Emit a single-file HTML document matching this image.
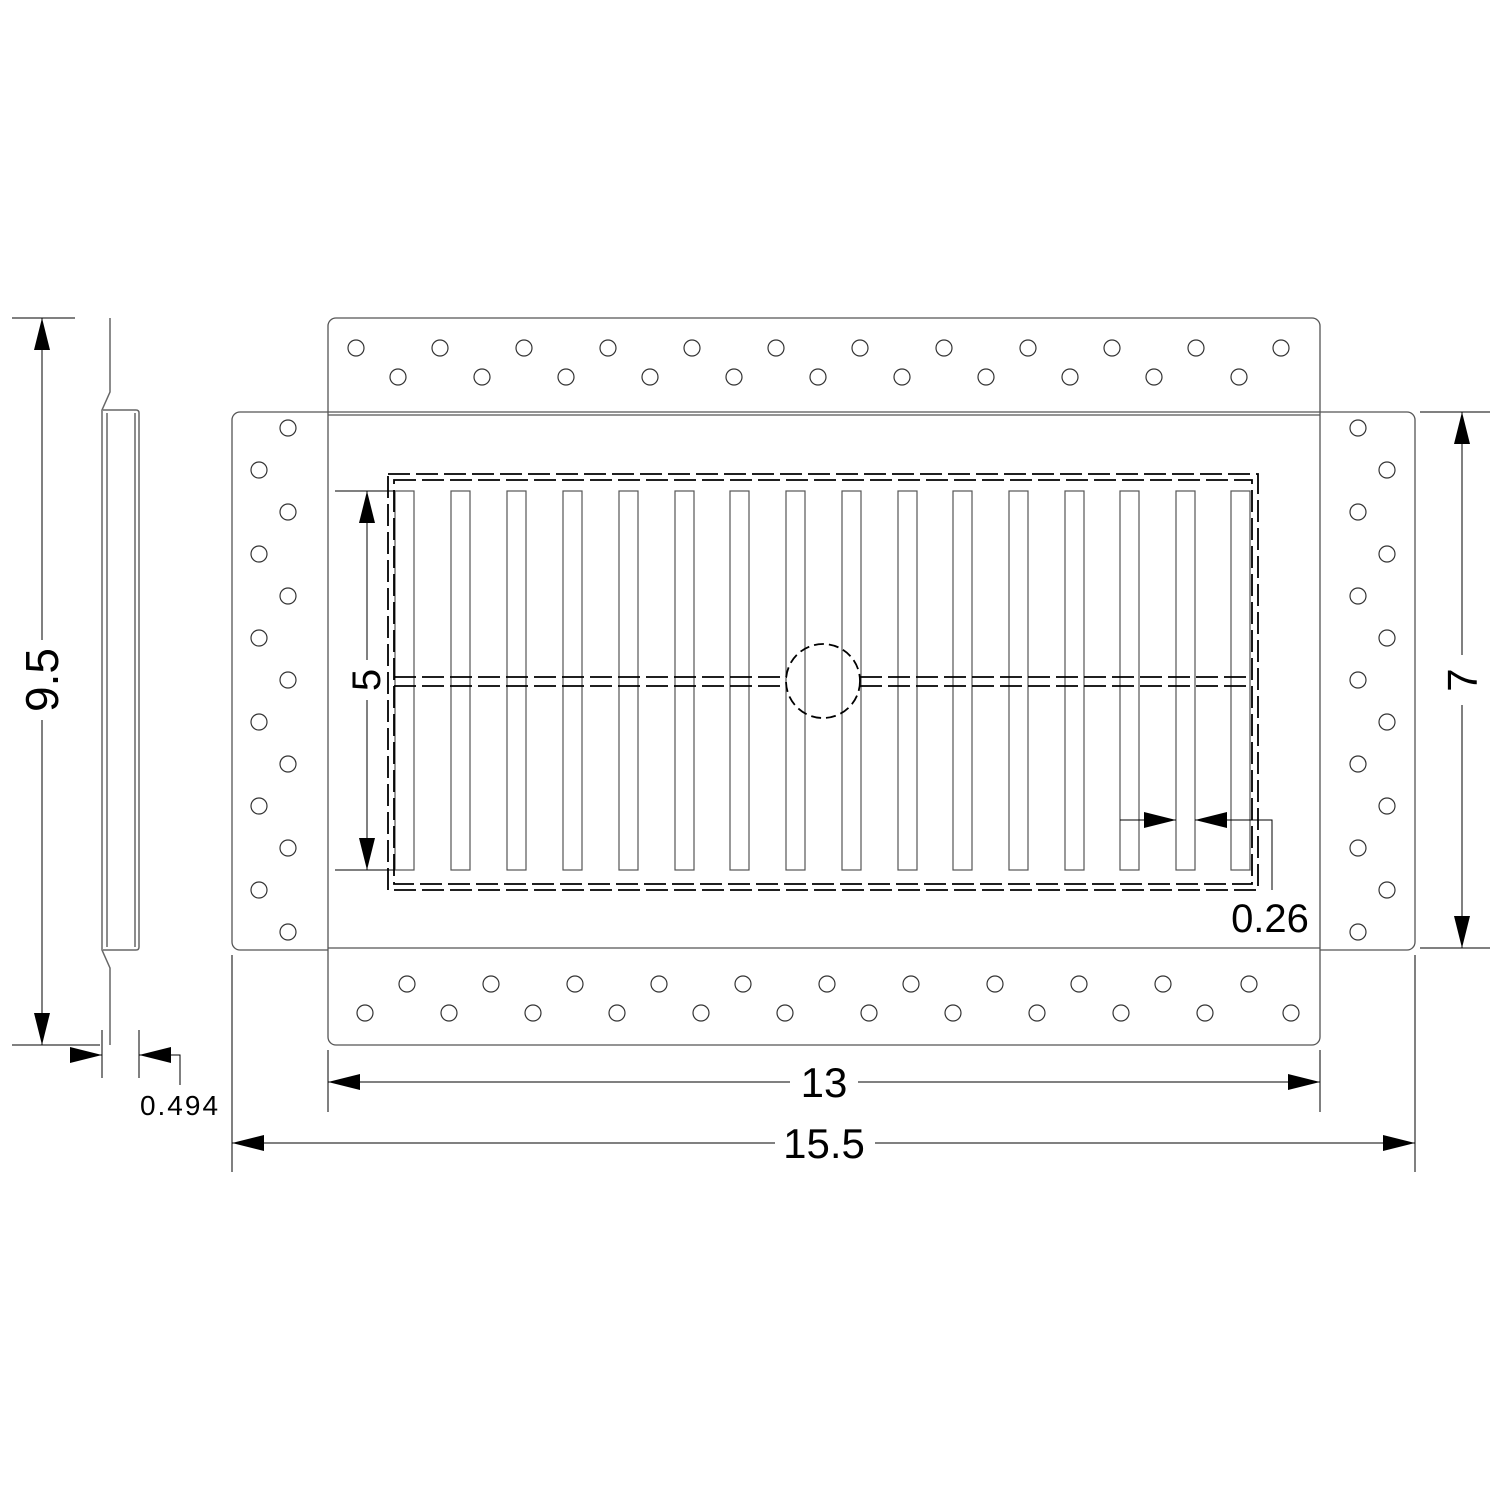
<!DOCTYPE html>
<html><head><meta charset="utf-8"><style>html,body{margin:0;padding:0;background:#fff}</style></head>
<body>
<svg width="1500" height="1500" viewBox="0 0 1500 1500" xmlns="http://www.w3.org/2000/svg">
<defs>
<marker id="a" viewBox="0 0 10 10" refX="10" refY="5" markerWidth="32" markerHeight="16" markerUnits="userSpaceOnUse" orient="auto" preserveAspectRatio="none"><path d="M0,0L10,5L0,10z" fill="#000"/></marker>
</defs>
<g fill="none" stroke="#555" stroke-width="1.3">
<rect x="328" y="318" width="992" height="727" rx="8"/>
<path d="M328,412 H240 a8,8 0 0 0 -8,8 V942 a8,8 0 0 0 8,8 H328"/>
<path d="M1320,412 H1407 a8,8 0 0 1 8,8 V942 a8,8 0 0 1 -8,8 H1320"/>
<line x1="328" y1="412" x2="1320" y2="412"/><line x1="328" y1="415" x2="1320" y2="415"/>
<line x1="328" y1="948" x2="1320" y2="948"/>
</g>
<g fill="none" stroke="#333" stroke-width="1.2">
<circle cx="356" cy="348" r="8"/><circle cx="440" cy="348" r="8"/><circle cx="524" cy="348" r="8"/><circle cx="608" cy="348" r="8"/><circle cx="692" cy="348" r="8"/><circle cx="776" cy="348" r="8"/><circle cx="860" cy="348" r="8"/><circle cx="944" cy="348" r="8"/><circle cx="1028" cy="348" r="8"/><circle cx="1112" cy="348" r="8"/><circle cx="1196" cy="348" r="8"/><circle cx="1281" cy="348" r="8"/>
<circle cx="398" cy="377" r="8"/><circle cx="482" cy="377" r="8"/><circle cx="566" cy="377" r="8"/><circle cx="650" cy="377" r="8"/><circle cx="734" cy="377" r="8"/><circle cx="818" cy="377" r="8"/><circle cx="902" cy="377" r="8"/><circle cx="986" cy="377" r="8"/><circle cx="1070" cy="377" r="8"/><circle cx="1154" cy="377" r="8"/><circle cx="1239" cy="377" r="8"/>
<circle cx="407" cy="984" r="8"/><circle cx="491" cy="984" r="8"/><circle cx="575" cy="984" r="8"/><circle cx="659" cy="984" r="8"/><circle cx="743" cy="984" r="8"/><circle cx="827" cy="984" r="8"/><circle cx="911" cy="984" r="8"/><circle cx="995" cy="984" r="8"/><circle cx="1079" cy="984" r="8"/><circle cx="1163" cy="984" r="8"/><circle cx="1249" cy="984" r="8"/>
<circle cx="365" cy="1013" r="8"/><circle cx="449" cy="1013" r="8"/><circle cx="533" cy="1013" r="8"/><circle cx="617" cy="1013" r="8"/><circle cx="701" cy="1013" r="8"/><circle cx="785" cy="1013" r="8"/><circle cx="869" cy="1013" r="8"/><circle cx="953" cy="1013" r="8"/><circle cx="1037" cy="1013" r="8"/><circle cx="1121" cy="1013" r="8"/><circle cx="1205" cy="1013" r="8"/><circle cx="1291" cy="1013" r="8"/>
<circle cx="288" cy="428" r="8"/><circle cx="288" cy="512" r="8"/><circle cx="288" cy="596" r="8"/><circle cx="288" cy="680" r="8"/><circle cx="288" cy="764" r="8"/><circle cx="288" cy="848" r="8"/><circle cx="288" cy="932" r="8"/>
<circle cx="259" cy="470" r="8"/><circle cx="259" cy="554" r="8"/><circle cx="259" cy="638" r="8"/><circle cx="259" cy="722" r="8"/><circle cx="259" cy="806" r="8"/><circle cx="259" cy="890" r="8"/>
<circle cx="1358" cy="428" r="8"/><circle cx="1358" cy="512" r="8"/><circle cx="1358" cy="596" r="8"/><circle cx="1358" cy="680" r="8"/><circle cx="1358" cy="764" r="8"/><circle cx="1358" cy="848" r="8"/><circle cx="1358" cy="932" r="8"/>
<circle cx="1387" cy="470" r="8"/><circle cx="1387" cy="554" r="8"/><circle cx="1387" cy="638" r="8"/><circle cx="1387" cy="722" r="8"/><circle cx="1387" cy="806" r="8"/><circle cx="1387" cy="890" r="8"/>
</g>
<g fill="none" stroke="#555" stroke-width="1.2">
<rect x="395" y="491" width="19" height="379"/><rect x="451" y="491" width="19" height="379"/><rect x="507" y="491" width="19" height="379"/><rect x="563" y="491" width="19" height="379"/><rect x="619" y="491" width="19" height="379"/><rect x="675" y="491" width="19" height="379"/><rect x="730" y="491" width="19" height="379"/><rect x="786" y="491" width="19" height="379"/><rect x="842" y="491" width="19" height="379"/><rect x="898" y="491" width="19" height="379"/><rect x="953" y="491" width="19" height="379"/><rect x="1009" y="491" width="19" height="379"/><rect x="1065" y="491" width="19" height="379"/><rect x="1120" y="491" width="19" height="379"/><rect x="1176" y="491" width="19" height="379"/><rect x="1231" y="491" width="19" height="379"/>
</g>
<g fill="none" stroke="#000" stroke-width="1.8" stroke-dasharray="22,6">
<rect x="388" y="474" width="870" height="416"/>
<rect x="394" y="480" width="858" height="404"/>
<line x1="394" y1="677" x2="787" y2="677"/><line x1="860" y1="677" x2="1252" y2="677"/>
<line x1="394" y1="686" x2="787" y2="686"/><line x1="860" y1="686" x2="1252" y2="686"/>
<circle cx="823" cy="681" r="37" stroke-dasharray="10,5"/>
</g>
<g fill="none" stroke="#666" stroke-width="1.5">
<path d="M110,318 V392 L102,410 V950 L110,968 V1045"/>
<path d="M103,410 H136 Q139,410 139,413 V947 Q139,950 136,950 H103"/>
<line x1="107" y1="413" x2="107" y2="947"/><line x1="135" y1="413" x2="135" y2="947"/>
</g>
<g stroke="#000" stroke-width="1" fill="none">
<line x1="12" y1="318" x2="75" y2="318"/><line x1="12" y1="1045" x2="100" y2="1045"/>
<line x1="42" y1="640" x2="42" y2="318" marker-end="url(#a)"/><line x1="42" y1="720" x2="42" y2="1045" marker-end="url(#a)"/>
<line x1="102" y1="1030" x2="102" y2="1078"/><line x1="139" y1="1030" x2="139" y2="1078"/>
<line x1="70" y1="1055" x2="102" y2="1055" marker-end="url(#a)"/>
<path d="M180,1085 V1055 H139" marker-end="url(#a)"/>
<line x1="328" y1="1050" x2="328" y2="1112"/><line x1="1320" y1="1050" x2="1320" y2="1112"/>
<line x1="790" y1="1082" x2="328" y2="1082" marker-end="url(#a)"/><line x1="858" y1="1082" x2="1320" y2="1082" marker-end="url(#a)"/>
<line x1="232" y1="955" x2="232" y2="1172"/><line x1="1415" y1="955" x2="1415" y2="1172"/>
<line x1="775" y1="1143" x2="232" y2="1143" marker-end="url(#a)"/><line x1="875" y1="1143" x2="1415" y2="1143" marker-end="url(#a)"/>
<line x1="1420" y1="412" x2="1490" y2="412"/><line x1="1420" y1="948" x2="1490" y2="948"/>
<line x1="1462" y1="655" x2="1462" y2="412" marker-end="url(#a)"/><line x1="1462" y1="705" x2="1462" y2="948" marker-end="url(#a)"/>
<line x1="335" y1="491" x2="395" y2="491"/><line x1="335" y1="870" x2="395" y2="870"/>
<line x1="367" y1="660" x2="367" y2="491" marker-end="url(#a)"/><line x1="367" y1="700" x2="367" y2="870" marker-end="url(#a)"/>
<line x1="1120" y1="820" x2="1176" y2="820" marker-end="url(#a)"/>
<path d="M1272,890 V820 H1195" marker-end="url(#a)"/>
</g>
<g font-family="Liberation Sans, sans-serif" fill="#000">
<text x="42" y="680" font-size="46" text-anchor="middle" transform="rotate(-90 42 680)" dominant-baseline="central">9.5</text>
<text x="367" y="680" font-size="40" text-anchor="middle" transform="rotate(-90 367 680)" dominant-baseline="central">5</text>
<text x="1462" y="680" font-size="42" text-anchor="middle" transform="rotate(-90 1462 680)" dominant-baseline="central">7</text>
<text x="824" y="1097" font-size="42" text-anchor="middle">13</text>
<text x="824" y="1158" font-size="42" text-anchor="middle">15.5</text>
<text x="1270" y="932" font-size="40" text-anchor="middle">0.26</text>
<text x="180" y="1115" font-size="28" text-anchor="middle" letter-spacing="2">0.494</text>
</g>
</svg>
</body></html>
